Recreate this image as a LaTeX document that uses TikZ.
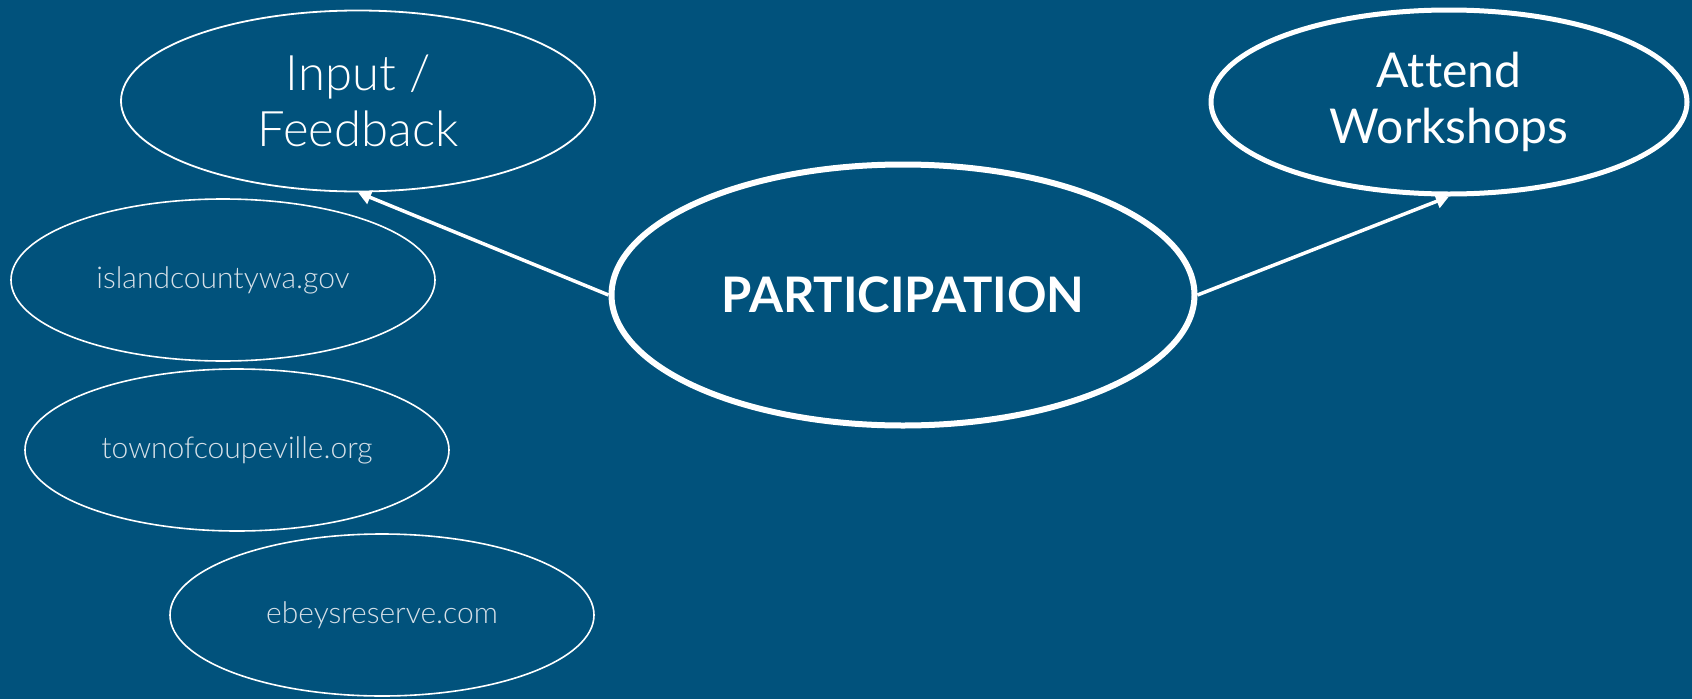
\documentclass[tikz,border=0pt]{standalone}
\usepackage{fontspec}
\setmainfont{Lato}[Ligatures=NoCommon]
\newfontfamily\lightfont{Lato Light}[Ligatures=NoCommon]
\usetikzlibrary{shapes.geometric,arrows.meta}
\definecolor{bgblue}{RGB}{1,82,124}
\definecolor{urlgrey}{RGB}{214,224,232}
\tikzset{x=1pt,y=-1pt,
    oval/.style={ellipse,draw=white,inner sep=0pt,align=center,text=white},
    thinoval/.style={oval,line width=1.8pt,minimum width=474pt,minimum height=181pt,
        font=\lightfont\fontsize{49}{56}\selectfont},
    siteoval/.style={oval,line width=1.6pt,minimum width=424pt,minimum height=162pt,
        text=urlgrey,font=\lightfont\fontsize{30}{34}\selectfont},
    boldoval/.style={oval,line width=6pt},
    link/.style={draw=white,line width=3.5pt,-{Triangle[length=13pt,width=14pt]}},
    }
\begin{document}
\begin{tikzpicture}
	\fill[bgblue] (0,0) rectangle (1692,699);
	\useasboundingbox (0,0) rectangle (1692,699);
	% centre
	\node[boldoval,minimum width=583pt,minimum height=261pt,
		font=\bfseries\fontsize{49}{58}\selectfont] (part) at (903,295) {PARTICIPATION};
	% top
	\node[thinoval] (input) at (358,101) {Input /\\Feedback};
	\node[boldoval,line width=5pt,minimum width=476pt,minimum height=184pt,
		font=\fontsize{48}{56}\selectfont] (attend) at (1449,102) {Attend\\Workshops};
	% sites
	\node[siteoval] (island) at (223,280) {islandcountywa.gov};
	\node[siteoval] (town) at (237,450) {townofcoupeville.org};
	\node[siteoval] (ebey) at (382,615) {ebeysreserve.com};
	% links
	\draw[link] (part.west) -- (input.south);
	\draw[link] (part.east) -- (attend.south);
\end{tikzpicture}
\end{document}
